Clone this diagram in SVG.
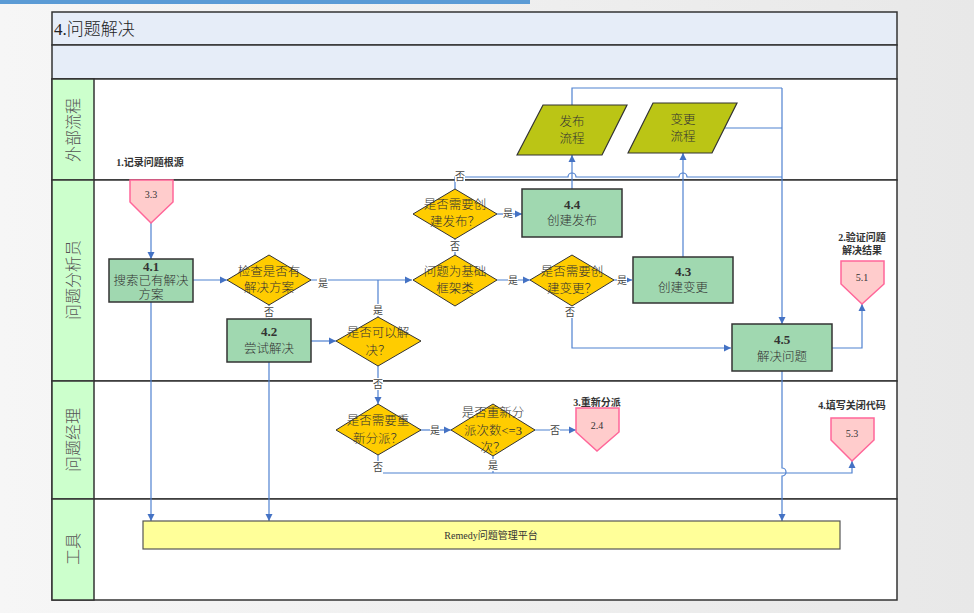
<svg xmlns="http://www.w3.org/2000/svg" width="974" height="613" viewBox="0 0 974 613">
<defs>
<marker id="arr" markerWidth="8" markerHeight="8" refX="7" refY="4" orient="auto" markerUnits="userSpaceOnUse">
<path d="M0,0.5 L7,4 L0,7.5 Z" fill="#4472c4"/>
</marker>
<linearGradient id="bgr" x1="0" y1="0" x2="1" y2="0">
<stop offset="0" stop-color="#f6f6f6"/>
<stop offset="1" stop-color="#e8e8e8"/>
</linearGradient>
</defs>
<style>
text{font-family:"Liberation Serif","Noto Sans CJK SC",serif;fill:#333}
.lane{fill:#ffffff;stroke:#333;stroke-width:1.5}
.lab{fill:#ccffcc;stroke:#333;stroke-width:1.5}
.hdr{fill:#e6edf8;stroke:#333;stroke-width:1.5}
.box{fill:#a0d8b0;stroke:#333;stroke-width:1.5}
.dia{fill:#ffcc00;stroke:#333;stroke-width:1}
.pent{fill:#ffcccc;stroke:#ff6699;stroke-width:1.5}
.par{fill:#bbc515;stroke:#333;stroke-width:1.2}
.tool{fill:#ffff99;stroke:#555;stroke-width:1.2}
.c{fill:none;stroke:#4f81d0;stroke-width:1.2}
.ca{fill:none;stroke:#4f81d0;stroke-width:1.2;marker-end:url(#arr)}
.t13{font-size:12.5px;text-anchor:middle;font-weight:300}
.b13{font-size:13px;text-anchor:middle;font-weight:bold}
.sm{font-size:10px;text-anchor:middle}
.cap{font-size:10px;font-weight:bold;text-anchor:middle}
.lbl{font-size:10px;text-anchor:middle;fill:#444}
.lanet{font-size:16px;text-anchor:middle;fill:#555;font-weight:300}
</style>
<rect x="0" y="0" width="974" height="613" fill="url(#bgr)"/>
<rect x="0" y="0" width="530" height="4" fill="#5b9bd5"/>

<g id="frame">
<rect class="hdr" x="52" y="12" width="845" height="33"/>
<rect class="hdr" x="52" y="45" width="845" height="34"/>
<rect class="lane" x="52" y="79" width="845" height="101"/>
<rect class="lane" x="52" y="180" width="845" height="201"/>
<rect class="lane" x="52" y="381" width="845" height="118"/>
<rect class="lane" x="52" y="499" width="845" height="101"/>
<rect class="lab" x="52" y="79" width="42" height="101"/>
<rect class="lab" x="52" y="180" width="42" height="201"/>
<rect class="lab" x="52" y="381" width="42" height="118"/>
<rect class="lab" x="52" y="499" width="42" height="101"/>
<text x="54" y="35" style="font-size:17px;fill:#222;font-weight:300">4.问题解决</text>
<text class="lanet" transform="translate(79,130) rotate(-90)">外部流程</text>
<text class="lanet" transform="translate(79,280) rotate(-90)">问题分析员</text>
<text class="lanet" transform="translate(79,440) rotate(-90)">问题经理</text>
<text class="lanet" transform="translate(79,549) rotate(-90)">工具</text>
</g>

<g id="connectors">
<path class="ca" d="M151,223 V259"/>
<path class="ca" d="M193,280 H227"/>
<path class="ca" d="M311,280 H412"/>
<path class="c" d="M378,317 V280"/>
<path class="c" d="M269,305 V319"/>
<path class="ca" d="M311,341 H336"/>
<path class="ca" d="M378,366 V404"/>
<path class="c" d="M455,239 V255"/>
<path class="ca" d="M497,280 H530"/>
<path class="ca" d="M614,280 H632"/>
<path class="ca" d="M497,214 H522"/>
<path class="ca" d="M572,189 V155"/>
<path class="ca" d="M683,257 V153"/>
<path class="c" d="M455,189 V177 H568 a4,4 0 0 1 8,0 H679 a4,4 0 0 1 8,0 H782"/>
<path class="c" d="M572,105 V88 H782"/>
<path class="c" d="M725,128 H782"/>
<path class="ca" d="M782,88 V324"/>
<path class="ca" d="M572,306 V348 H731"/>
<path class="ca" d="M832,348 H862 V304"/>
<path class="ca" d="M782,371 V468 a4,4 0 0 1 0,8 V521"/>
<path class="ca" d="M420,430 H451"/>
<path class="ca" d="M535,430 H576"/>
<path class="c" d="M378,455 V473"/>
<path class="ca" d="M493,456 V473 M383,473 H852 V461"/>
<path class="ca" d="M151,302 V521"/>
<path class="ca" d="M269,362 V521"/>
<g>
<rect x="455" y="171" width="10" height="11" fill="#fff"/><text class="lbl" x="460" y="180">否</text>
<rect x="264" y="306" width="10" height="12" fill="#fff"/><text class="lbl" x="269" y="316">否</text>
<rect x="317" y="277" width="11" height="12" fill="#fff"/><text class="lbl" x="323" y="287">是</text>
<rect x="373" y="304" width="10" height="12" fill="#fff"/><text class="lbl" x="378" y="314">是</text>
<rect x="373" y="378" width="10" height="12" fill="#fff"/><text class="lbl" x="378" y="388">否</text>
<rect x="450" y="240" width="10" height="12" fill="#fff"/><text class="lbl" x="455" y="250">否</text>
<rect x="503" y="207" width="10" height="12" fill="#fff"/><text class="lbl" x="508" y="217">是</text>
<rect x="508" y="274" width="10" height="12" fill="#fff"/><text class="lbl" x="513" y="284">是</text>
<rect x="617" y="274" width="10" height="12" fill="#fff"/><text class="lbl" x="622" y="284">是</text>
<rect x="565" y="306" width="10" height="12" fill="#fff"/><text class="lbl" x="570" y="316">否</text>
<rect x="430" y="424" width="10" height="12" fill="#fff"/><text class="lbl" x="435" y="434">是</text>
<rect x="550" y="424" width="10" height="12" fill="#fff"/><text class="lbl" x="555" y="434">否</text>
<rect x="373" y="461" width="10" height="12" fill="#fff"/><text class="lbl" x="378" y="471">否</text>
<rect x="488" y="459" width="10" height="12" fill="#fff"/><text class="lbl" x="493" y="469">是</text>
</g>
</g>

<g id="n33">
<text class="cap" x="150" y="166">1.记录问题根源</text>
<polygon class="pent" points="130,180 173,180 173,202 151,223 130,202"/>
<text class="sm" x="151" y="198">3.3</text>
</g>
<g id="n41">
<rect class="box" x="109" y="259" width="84" height="43"/>
<text class="b13" x="151" y="271">4.1</text>
<text class="t13" x="151" y="285">搜索已有解决</text>
<text class="t13" x="151" y="299">方案</text>
</g>
<g id="d-check">
<polygon class="dia" points="269,255 311,280 269,305 227,280"/>
<text class="t13" x="269" y="276">检查是否有</text>
<text class="t13" x="269" y="292">解决方案</text>
</g>
<g id="n42">
<rect class="box" x="227" y="319" width="84" height="43"/>
<text class="b13" x="269" y="336">4.2</text>
<text class="t13" x="269" y="353">尝试解决</text>
</g>
<g id="d-solve">
<polygon class="dia" points="378,317 421,341 378,366 336,341"/>
<text class="t13" x="378" y="337">是否可以解</text>
<text class="t13" x="378" y="355">决？</text>
</g>
<g id="d-infra">
<polygon class="dia" points="455,255 497,280 455,306 413,280"/>
<text class="t13" x="455" y="276">问题为基础</text>
<text class="t13" x="455" y="293">框架类</text>
</g>
<g id="d-release">
<polygon class="dia" points="455,189 497,214 455,239 413,214"/>
<text class="t13" x="455" y="209">是否需要创</text>
<text class="t13" x="455" y="226">建发布？</text>
</g>
<g id="n44">
<rect class="box" x="522" y="189" width="100" height="48"/>
<text class="b13" x="572" y="209">4.4</text>
<text class="t13" x="572" y="225">创建发布</text>
</g>
<g id="p-release">
<polygon class="par" points="517,155 543,105 627,105 602,155"/>
<text class="t13" x="572" y="126">发布</text>
<text class="t13" x="572" y="143">流程</text>
</g>
<g id="p-change">
<polygon class="par" points="628,153 653,103 737,103 712,153"/>
<text class="t13" x="683" y="124">变更</text>
<text class="t13" x="683" y="141">流程</text>
</g>
<g id="d-change">
<polygon class="dia" points="572,255 614,280 572,306 530,280"/>
<text class="t13" x="572" y="276">是否需要创</text>
<text class="t13" x="572" y="293">建变更？</text>
</g>
<g id="n43">
<rect class="box" x="633" y="257" width="100" height="46"/>
<text class="b13" x="683" y="276">4.3</text>
<text class="t13" x="683" y="292">创建变更</text>
</g>
<g id="n45">
<rect class="box" x="732" y="324" width="100" height="47"/>
<text class="b13" x="782" y="344">4.5</text>
<text class="t13" x="782" y="361">解决问题</text>
</g>
<g id="n51">
<text class="cap" x="862" y="241">2.验证问题</text>
<text class="cap" x="862" y="254">解决结果</text>
<polygon class="pent" points="841,261 884,261 884,284 862,304 841,284"/>
<text class="sm" x="862" y="281">5.1</text>
</g>
<g id="d-reassign">
<polygon class="dia" points="378,404 421,430 378,455 336,430"/>
<text class="t13" x="378" y="425">是否需要重</text>
<text class="t13" x="378" y="443">新分派？</text>
</g>
<g id="d-count">
<polygon class="dia" points="493,404 535,430 493,456 451,430"/>
<text class="t13" x="493" y="417">是否重新分</text>
<text class="t13" x="493" y="435">派次数&lt;=3</text>
<text class="t13" x="493" y="452">次？</text>
</g>
<g id="n24">
<text class="cap" x="597" y="406">3.重新分派</text>
<polygon class="pent" points="576,408 619,408 619,432 597,451 576,432"/>
<text class="sm" x="597" y="429">2.4</text>
</g>
<g id="n53">
<text class="cap" x="852" y="409">4.填写关闭代码</text>
<polygon class="pent" points="831,418 874,418 874,440 852,461 831,440"/>
<text class="sm" x="852" y="437">5.3</text>
</g>
<g id="tool">
<rect class="tool" x="143" y="521" width="697" height="28"/>
<text class="sm" x="491" y="539">Remedy问题管理平台</text>
</g>
</svg>
